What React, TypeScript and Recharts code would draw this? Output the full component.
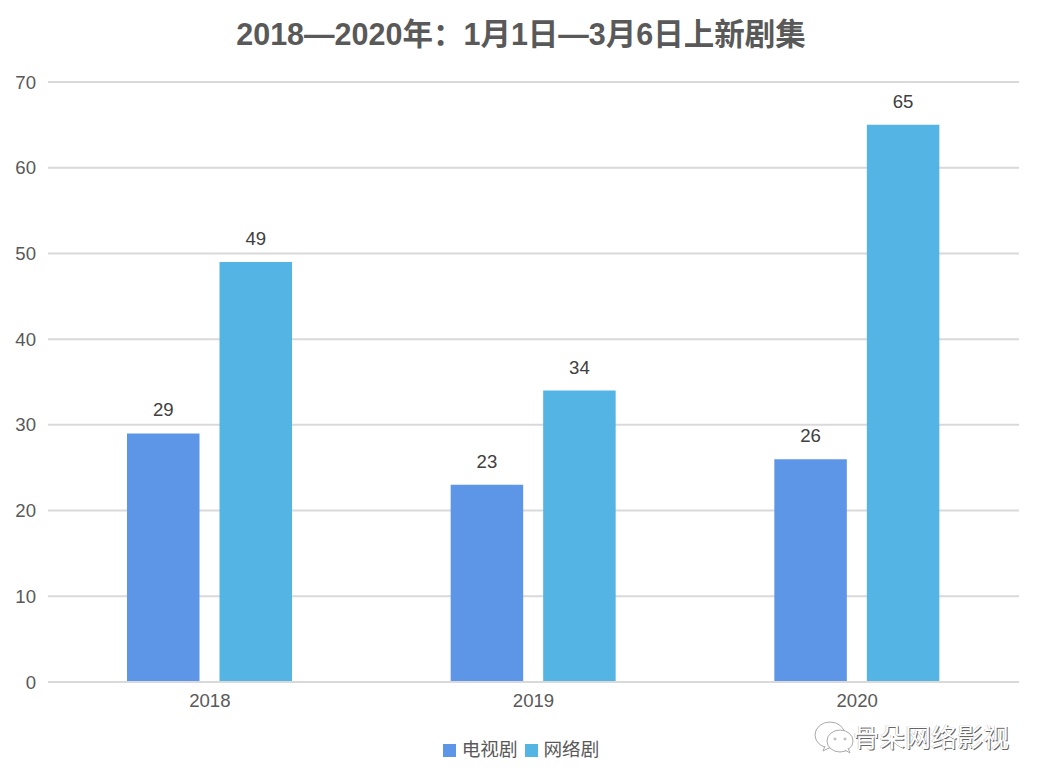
import React from "react";
import { BarChart, Bar, XAxis, YAxis, CartesianGrid, Legend, LabelList } from "recharts";

const years = ["2018", "2019", "2020"];
const tvValues = [29, 23, 26];
const webValues = [49, 34, 65];
const yTicks = [0, 10, 20, 30, 40, 50, 60, 70];
const titleText = "2018—2020年：1月1日—3月6日上新剧集";
const watermarkText = "骨朵网络影视";
const tvName = "电视剧";
const webName = "网络剧";

const rows = years.map((year, i) => ({ year, tv: tvValues[i], web: webValues[i] }));

const FONT = '"Liberation Sans", "Noto Sans CJK SC", sans-serif';
const TEXT = "#595959";

const LegendContent = () => (
  <div
    style={{
      display: "flex",
      justifyContent: "center",
      alignItems: "center",
      fontFamily: FONT,
      fontSize: 18.6,
      color: TEXT,
      lineHeight: "24px",
    }}
  >
    <span style={{ width: 13, height: 13, background: "#5d95e7", marginRight: 6 }} />
    <span style={{ marginRight: 7 }}>{tvName}</span>
    <span style={{ width: 13, height: 13, background: "#54b5e5", marginRight: 6 }} />
    <span>{webName}</span>
  </div>
);

export default function App() {
  return (
    <div style={{ position: "absolute", left: 0, top: 0, width: 1042, height: 782, background: "#fff", overflow: "hidden" }}>
      <div
        style={{
          position: "absolute",
          left: 0,
          top: 13,
          width: 1042,
          textAlign: "center",
          fontFamily: FONT,
          fontWeight: 700,
          fontSize: 30.5,
          lineHeight: "42px",
          color: TEXT,
        }}
      >
        {titleText}
      </div>
      <BarChart
        width={1042}
        height={782}
        data={rows}
        margin={{ top: 82, right: 23, bottom: 0, left: 0 }}
        barSize={72.5}
        barGap={20}
      >
        <CartesianGrid vertical={false} stroke="#d9d9d9" strokeWidth={2} />
        <XAxis
          dataKey="year"
          axisLine={{ stroke: "#d9d9d9", strokeWidth: 2 }}
          tickLine={false}
          height={76}
          tickMargin={6}
          tick={{ fontFamily: FONT, fontSize: 18.6, fill: TEXT }}
        />
        <YAxis
          domain={[0, 70]}
          ticks={yTicks}
          width={48}
          axisLine={false}
          tickLine={false}
          tickMargin={12}
          interval={0}
          tick={{ fontFamily: FONT, fontSize: 18.6, fill: TEXT, dx: 6 }}
        />
        <Legend
          content={<LegendContent />}
          wrapperStyle={{ position: "absolute", left: 0, top: 738, width: 1042, height: 24 }}
        />
        <Bar dataKey="tv" name={tvName} fill="#5d95e7" isAnimationActive={false}>
          <LabelList dataKey="tv" position="top" offset={17} style={{ fontFamily: FONT, fontSize: 18.6, fill: "#404040" }} />
        </Bar>
        <Bar dataKey="web" name={webName} fill="#54b5e5" isAnimationActive={false}>
          <LabelList dataKey="web" position="top" offset={17} style={{ fontFamily: FONT, fontSize: 18.6, fill: "#404040" }} />
        </Bar>
      </BarChart>
      <svg style={{ position: "absolute", left: 805, top: 720 }} width={50} height={36} viewBox="0 0 50 36" fill="#fff" stroke="#aaa" strokeWidth={1}>
        <ellipse cx={25} cy={15} rx={15} ry={13} />
        <path d="M20 26 L18 31 L26 27" />
        <ellipse cx={35} cy={21} rx={13} ry={11} />
        <path d="M40 30 L45 33 L43 28" />
        <circle cx={30} cy={19} r={1} />
        <circle cx={40} cy={19} r={1} />
      </svg>
      <div
        style={{
          position: "absolute",
          left: 853,
          top: 718,
          fontFamily: '"Noto Sans CJK SC", sans-serif',
          fontSize: 26,
          lineHeight: "36px",
          color: "#fff",
          whiteSpace: "nowrap",
          textShadow: "1px 1px 0 #666, -0.5px -0.5px 0 #bbb",
        }}
      >
        {watermarkText}
      </div>
    </div>
  );
}
